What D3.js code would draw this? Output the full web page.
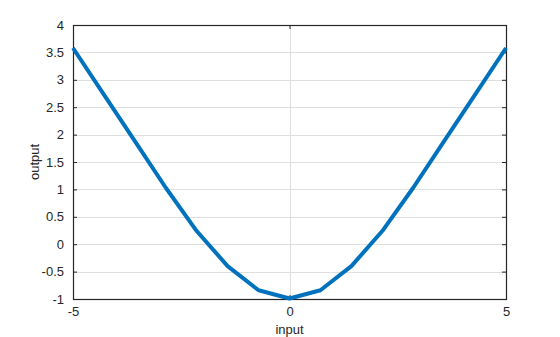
<!DOCTYPE html>
<html>
<head>
<meta charset="utf-8">
<script src="https://cdn.jsdelivr.net/npm/d3@7"></script>
<style>
  body { margin: 0; background: #fff; }
  text { font-family: "Liberation Sans", Arial, sans-serif; }
</style>
</head>
<body>
<div id="chart"></div>
<script>
// DATA
var xValues = [-5, -4.286, -3.571, -2.857, -2.143, -1.429, -0.714, 0, 0.714, 1.429, 2.143, 2.857, 3.571, 4.286, 5];
var yValues = [3.58, 2.73, 1.88, 1.03, 0.24, -0.40, -0.84, -0.99, -0.84, -0.40, 0.24, 1.03, 1.88, 2.73, 3.58];
var xTicks = [-5, 0, 5];
var yTicks = [-1, -0.5, 0, 0.5, 1, 1.5, 2, 2.5, 3, 3.5, 4];

var w = 560;
var h = 337;
var plotLeft = 73, plotRight = 506, plotTop = 25, plotBottom = 299;
var axisColor = "#262626";

var svg = d3.select("#chart").append("svg").attr("width", w).attr("height", h);

// SCALES
var xScale = d3.scaleLinear().domain([-5, 5]).range([plotLeft, plotRight]);
var yScale = d3.scaleLinear().domain([-1, 4]).range([plotBottom, plotTop]);

var fmt = function (d) { return String(d); };

// GRID
svg.append("g").selectAll("line")
  .data(yTicks.slice(1, -1))
  .enter().append("line")
  .attr("x1", plotLeft).attr("x2", plotRight)
  .attr("y1", function (d) { return Math.round(yScale(d)) + 0.5; })
  .attr("y2", function (d) { return Math.round(yScale(d)) + 0.5; })
  .attr("stroke", "#dfdfdf").attr("stroke-width", 1);

svg.append("g").selectAll("line")
  .data(xTicks.slice(1, -1))
  .enter().append("line")
  .attr("y1", plotTop).attr("y2", plotBottom)
  .attr("x1", function (d) { return Math.round(xScale(d)) + 0.5; })
  .attr("x2", function (d) { return Math.round(xScale(d)) + 0.5; })
  .attr("stroke", "#dfdfdf").attr("stroke-width", 1);

// AXES (ticks inside)
var xAxis = d3.axisBottom(xScale).tickValues(xTicks).tickSize(-4).tickPadding(8).tickSizeOuter(0).tickFormat(fmt);
var yAxis = d3.axisLeft(yScale).tickValues(yTicks).tickSize(-4).tickPadding(9).tickSizeOuter(0).tickFormat(fmt);
var yAxisR = d3.axisRight(yScale).tickValues(yTicks).tickSize(-4).tickFormat("").tickSizeOuter(0);
var xAxisT = d3.axisTop(xScale).tickValues(xTicks).tickSize(-4).tickFormat("").tickSizeOuter(0);

function styleAxis(g) {
  g.select(".domain").remove();
  g.selectAll("line").attr("stroke", axisColor);
  g.selectAll("text").attr("fill", axisColor).attr("font-size", "13px")
    .attr("font-family", "'Liberation Sans', Arial, sans-serif");
}

svg.append("g").attr("transform", "translate(0," + plotBottom + ")").call(xAxis).call(styleAxis);
svg.append("g").attr("transform", "translate(" + plotLeft + ",0)").call(yAxis).call(styleAxis);
svg.append("g").attr("transform", "translate(" + plotRight + ",0)").call(yAxisR).call(styleAxis);
svg.append("g").attr("transform", "translate(0," + plotTop + ")").call(xAxisT).call(styleAxis);

// BOX
svg.append("rect")
  .attr("x", plotLeft + 0.5).attr("y", plotTop + 0.5)
  .attr("width", plotRight - plotLeft).attr("height", plotBottom - plotTop)
  .attr("fill", "none").attr("stroke", axisColor).attr("stroke-width", 1.2);

// LINE
var line = d3.line()
  .x(function (d, i) { return xScale(xValues[i]); })
  .y(function (d) { return yScale(d); });

svg.append("path")
  .datum(yValues)
  .attr("d", line)
  .attr("fill", "none")
  .attr("stroke", "#0072BD")
  .attr("stroke-width", 4)
  .attr("stroke-linejoin", "round");

// LABELS
svg.append("text")
  .attr("x", (plotLeft + plotRight) / 2)
  .attr("y", 334)
  .attr("text-anchor", "middle")
  .attr("font-size", "13px")
  .attr("fill", axisColor)
  .text("input");

svg.append("text")
  .attr("transform", "rotate(-90)")
  .attr("x", -(plotTop + plotBottom) / 2)
  .attr("y", 39)
  .attr("text-anchor", "middle")
  .attr("font-size", "13px")
  .attr("fill", axisColor)
  .text("output");
</script>
</body>
</html>
